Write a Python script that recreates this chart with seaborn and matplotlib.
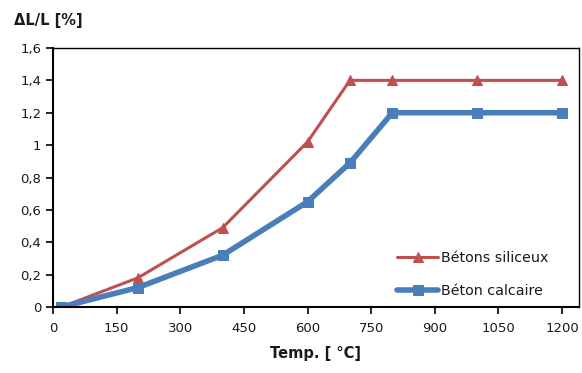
import matplotlib
matplotlib.use("Agg")
import matplotlib.pyplot as plt
import seaborn as sns
import pandas as pd
from matplotlib.ticker import FuncFormatter

temps = [20, 200, 400, 600, 700, 800, 1000, 1200]
siliceux = [0.0, 0.18, 0.49, 1.02, 1.40, 1.40, 1.40, 1.40]
calcaire = [0.0, 0.12, 0.32, 0.65, 0.89, 1.20, 1.20, 1.20]
series_names = ["Bétons siliceux", "Béton calcaire"]
x_ticks = [0, 150, 300, 450, 600, 750, 900, 1050, 1200]
y_ticks = [0, 0.2, 0.4, 0.6, 0.8, 1.0, 1.2, 1.4, 1.6]

sns.set_style("white")
plt.rcParams['font.family'] = ['DejaVu Sans']

fig = plt.figure(figsize=(5.82, 3.73), dpi=100)
ax = fig.add_axes([53/582, 1-307/373, (579-53)/582, (307-48)/373])

df_s = pd.DataFrame({"T": temps, "v": siliceux})
df_c = pd.DataFrame({"T": temps, "v": calcaire})

red = "#C0504D"
blue = "#4A7EBB"
sns.lineplot(data=df_s, x="T", y="v", ax=ax, color=red, linewidth=2.2,
             marker="^", markersize=7, markeredgecolor=red, label=series_names[0])
sns.lineplot(data=df_c, x="T", y="v", ax=ax, color=blue, linewidth=4,
             marker="s", markersize=7.5, markeredgecolor=blue, label=series_names[1])

ax.set_xlim(0, 1240)
ax.set_ylim(0, 1.6)
ax.set_xticks(x_ticks)
ax.set_yticks(y_ticks)

def fmt(v, pos):
    s = ("%.1f" % v).rstrip("0").rstrip(".")
    return s.replace(".", ",")

ax.yaxis.set_major_formatter(FuncFormatter(fmt))
ax.tick_params(axis="both", direction="out", length=5, width=1.2, colors="black",
               labelsize=9.5, labelcolor="#1a1a1a", left=True, bottom=True)
ax.tick_params(axis="x", pad=6)
for sp in ax.spines.values():
    sp.set_color("black")
    sp.set_linewidth(1.0)
ax.spines["left"].set_linewidth(1.5)
ax.spines["bottom"].set_linewidth(1.5)

ax.set_xlabel("Temp. [ °C]", fontsize=10.5, fontweight="bold", color="#1a1a1a", labelpad=8)
ax.set_ylabel("")
fig.text(14/582, 1-20/373, "ΔL/L [%]", fontsize=10.5, fontweight="bold",
         color="#1a1a1a", va="center", ha="left")

leg = ax.legend(loc="upper left", bbox_to_anchor=(397/582, 1-251/373),
                bbox_transform=fig.transFigure, frameon=False, fontsize=10.3,
                handlelength=2.9, handletextpad=0.2, labelspacing=1.3,
                borderpad=0, borderaxespad=0)
for t in leg.get_texts():
    t.set_color("#1a1a1a")

fig.savefig("out.png", dpi=100)
